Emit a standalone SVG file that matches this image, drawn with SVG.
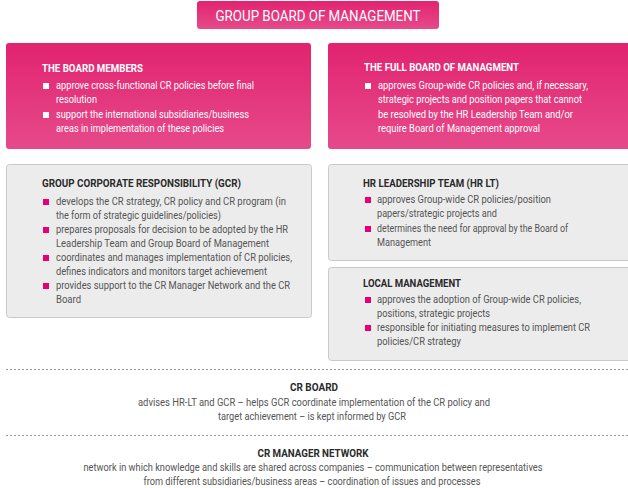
<svg xmlns="http://www.w3.org/2000/svg" width="628" height="488" viewBox="0 0 628 488">
<defs>
<linearGradient id="pink" x1="0" y1="0" x2="0" y2="1">
<stop offset="0" stop-color="#e2236f"/>
<stop offset="1" stop-color="#e64a8a"/>
</linearGradient>
<style>
text{font-family:Roboto,"Liberation Sans",sans-serif;}
.pk{fill:url(#pink);}
.gr{fill:#ececec;stroke:#c9c9c9;stroke-width:1;}
.tw{fill:#ffffff;font-size:11px;font-weight:bold;}
.bw{fill:#ffffff;font-size:11px;}
.td{fill:#2a2a2a;font-size:11px;font-weight:bold;}
.bd{fill:#555555;font-size:11px;}
.sqw{fill:#ffffff;}
.sqp{fill:#e20074;}
.ban{fill:#ffffff;font-size:15px;}
.dash{stroke:#9a9a9a;stroke-width:1;stroke-dasharray:2,2;fill:none;}
.ct{fill:#2a2a2a;font-size:11px;font-weight:bold;text-anchor:middle;}
.cb{fill:#555555;font-size:11px;text-anchor:middle;}
</style>
</defs>

<g id="group-board">
<rect class="pk" x="197" y="1" width="242" height="28" rx="3"/>
<text class="ban" x="318" y="21" text-anchor="middle" textLength="205" lengthAdjust="spacingAndGlyphs">GROUP BOARD OF MANAGEMENT</text>
</g>

<g id="board-members">
<rect class="pk" x="6" y="43" width="305" height="106" rx="3"/>
<text class="tw" x="42" y="72" textLength="101" lengthAdjust="spacingAndGlyphs">THE BOARD MEMBERS</text>
<rect class="sqw" x="43" y="83" width="6" height="6"/>
<text class="bw" x="56" y="89" textLength="198" lengthAdjust="spacingAndGlyphs">approve cross-functional CR policies before final</text>
<text class="bw" x="56" y="103" textLength="41" lengthAdjust="spacingAndGlyphs">resolution</text>
<rect class="sqw" x="43" y="112" width="6" height="6"/>
<text class="bw" x="56" y="118" textLength="193" lengthAdjust="spacingAndGlyphs">support the international subsidiaries/business</text>
<text class="bw" x="56" y="132" textLength="168" lengthAdjust="spacingAndGlyphs">areas in implementation of these policies</text>
</g>

<g id="full-board">
<rect class="pk" x="328" y="43" width="303" height="106" rx="3"/>
<text class="tw" x="364" y="71" textLength="155" lengthAdjust="spacingAndGlyphs">THE FULL BOARD OF MANAGMENT</text>
<rect class="sqw" x="365" y="83" width="6" height="6"/>
<text class="bw" x="378" y="89" textLength="210" lengthAdjust="spacingAndGlyphs">approves Group-wide CR policies and, if necessary,</text>
<text class="bw" x="378" y="103" textLength="204" lengthAdjust="spacingAndGlyphs">strategic projects and position papers that cannot</text>
<text class="bw" x="378" y="118" textLength="195" lengthAdjust="spacingAndGlyphs">be resolved by the HR Leadership Team and/or</text>
<text class="bw" x="378" y="132" textLength="162" lengthAdjust="spacingAndGlyphs">require Board of Management approval</text>
</g>

<g id="gcr">
<rect class="gr" x="6.5" y="164.5" width="305" height="153" rx="3"/>
<text class="td" x="42" y="187" textLength="199" lengthAdjust="spacingAndGlyphs">GROUP CORPORATE RESPONSIBILITY (GCR)</text>
<rect class="sqp" x="43" y="199" width="6" height="6"/>
<text class="bd" x="56" y="205" textLength="230" lengthAdjust="spacingAndGlyphs">develops the CR strategy, CR policy and CR program (in</text>
<text class="bd" x="56" y="219" textLength="165" lengthAdjust="spacingAndGlyphs">the form of strategic guidelines/policies)</text>
<rect class="sqp" x="43" y="227" width="6" height="6"/>
<text class="bd" x="56" y="233" textLength="232" lengthAdjust="spacingAndGlyphs">prepares proposals for decision to be adopted by the HR</text>
<text class="bd" x="56" y="247" textLength="213" lengthAdjust="spacingAndGlyphs">Leadership Team and Group Board of Management</text>
<rect class="sqp" x="43" y="255" width="6" height="6"/>
<text class="bd" x="56" y="261" textLength="236" lengthAdjust="spacingAndGlyphs">coordinates and manages implementation of CR policies,</text>
<text class="bd" x="56" y="275" textLength="211" lengthAdjust="spacingAndGlyphs">defines indicators and monitors target achievement</text>
<rect class="sqp" x="43" y="283" width="6" height="6"/>
<text class="bd" x="56" y="289" textLength="234" lengthAdjust="spacingAndGlyphs">provides support to the CR Manager Network and the CR</text>
<text class="bd" x="56" y="303" textLength="25" lengthAdjust="spacingAndGlyphs">Board</text>
</g>

<g id="hr-lt">
<rect class="gr" x="328.5" y="164.5" width="303" height="96" rx="3"/>
<text class="td" x="363" y="187" textLength="136" lengthAdjust="spacingAndGlyphs">HR LEADERSHIP TEAM (HR LT)</text>
<rect class="sqp" x="365" y="197" width="6" height="6"/>
<text class="bd" x="377" y="203" textLength="174" lengthAdjust="spacingAndGlyphs">approves Group-wide CR policies/position</text>
<text class="bd" x="377" y="217" textLength="120" lengthAdjust="spacingAndGlyphs">papers/strategic projects and</text>
<rect class="sqp" x="365" y="226" width="6" height="6"/>
<text class="bd" x="377" y="232" textLength="191" lengthAdjust="spacingAndGlyphs">determines the need for approval by the Board of</text>
<text class="bd" x="377" y="246" textLength="54" lengthAdjust="spacingAndGlyphs">Management</text>
</g>

<g id="local-management">
<rect class="gr" x="328.5" y="267.5" width="303" height="93" rx="3"/>
<text class="td" x="363" y="287" textLength="98" lengthAdjust="spacingAndGlyphs">LOCAL MANAGEMENT</text>
<rect class="sqp" x="365" y="297" width="6" height="6"/>
<text class="bd" x="377" y="303" textLength="204" lengthAdjust="spacingAndGlyphs">approves the adoption of Group-wide CR policies,</text>
<text class="bd" x="377" y="317" textLength="113" lengthAdjust="spacingAndGlyphs">positions, strategic projects</text>
<rect class="sqp" x="365" y="325" width="6" height="6"/>
<text class="bd" x="377" y="331" textLength="213" lengthAdjust="spacingAndGlyphs">responsible for initiating measures to implement CR</text>
<text class="bd" x="377" y="345" textLength="84" lengthAdjust="spacingAndGlyphs">policies/CR strategy</text>
</g>

<g id="connectors">
<line class="dash" x1="6" y1="369.5" x2="628" y2="369.5"/>
<line class="dash" x1="6" y1="435.5" x2="628" y2="435.5"/>
</g>

<g id="cr-board">
<text class="ct" x="314" y="391" textLength="48" lengthAdjust="spacingAndGlyphs">CR BOARD</text>
<text class="cb" x="314" y="406" textLength="352" lengthAdjust="spacingAndGlyphs">advises HR-LT and GCR – helps GCR coordinate implementation of the CR policy and</text>
<text class="cb" x="312" y="420" textLength="188" lengthAdjust="spacingAndGlyphs">target achievement – is kept informed by GCR</text>
</g>

<g id="cr-manager-network">
<text class="ct" x="313" y="457" textLength="111" lengthAdjust="spacingAndGlyphs">CR MANAGER NETWORK</text>
<text class="cb" x="313" y="471" textLength="459" lengthAdjust="spacingAndGlyphs">network in which knowledge and skills are shared across companies – communication between representatives</text>
<text class="cb" x="312" y="485" textLength="337" lengthAdjust="spacingAndGlyphs">from different subsidiaries/business areas – coordination of issues and processes</text>
</g>
</svg>
